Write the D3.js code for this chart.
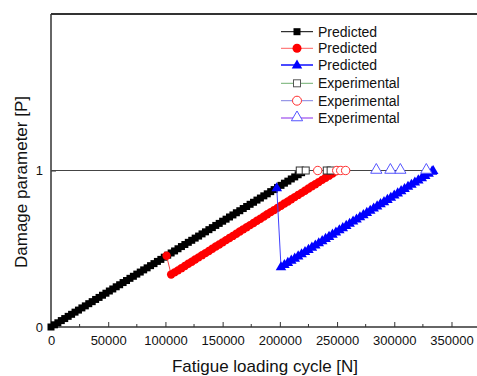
<!DOCTYPE html>
<html>
<head>
<meta charset="utf-8">
<script src="https://cdn.jsdelivr.net/npm/d3@7"></script>
<style>
body { margin: 0; background: white; }
svg { display: block; font-family: "Liberation Sans", Arial, sans-serif; }
</style>
</head>
<body>
<svg id="chart"></svg>
<script>
// predicted damage, specimen 1 (black squares)
var blackCycles = [0,3000,6000,9000,12000,15000,18000,21000,24000,27000,30000,33000,36000,39000,42000,45000,48000,51000,54000,57000,60000,63000,66000,69000,72000,75000,78000,81000,84000,87000,90000,93000,96000,99000,102000,105000,108000,111000,114000,117000,120000,123000,126000,129000,132000,135000,138000,141000,144000,147000,150000,153000,156000,159000,162000,165000,168000,171000,174000,177000,180000,183000,186000,189000,192000,195000,198000,201000,204000,207000,210000,213000,216000,219000,222000];
var blackDamage = [0,0.014,0.027,0.041,0.054,0.068,0.081,0.095,0.108,0.122,0.135,0.149,0.162,0.176,0.189,0.203,0.216,0.230,0.243,0.257,0.270,0.284,0.297,0.311,0.324,0.338,0.351,0.365,0.378,0.392,0.405,0.419,0.432,0.446,0.459,0.473,0.486,0.500,0.514,0.527,0.541,0.554,0.568,0.581,0.595,0.608,0.622,0.635,0.649,0.662,0.676,0.689,0.703,0.716,0.730,0.743,0.757,0.770,0.784,0.797,0.811,0.824,0.838,0.851,0.865,0.878,0.892,0.905,0.919,0.932,0.946,0.959,0.973,0.986,1.000];

// predicted damage, specimen 2 (red circles)
var redCycles = [101000,105000,108000,111000,114000,117000,120000,123000,126000,129000,132000,135000,138000,141000,144000,147000,150000,153000,156000,159000,162000,165000,168000,171000,174000,177000,180000,183000,186000,189000,192000,195000,198000,201000,204000,207000,210000,213000,216000,219000,222000,225000,228000,231000,234000,237000,240000,243000,246000,249000,250000];
var redDamage = [0.455,0.335,0.349,0.362,0.376,0.390,0.404,0.417,0.431,0.445,0.459,0.472,0.486,0.500,0.514,0.527,0.541,0.555,0.569,0.582,0.596,0.610,0.624,0.637,0.651,0.665,0.679,0.692,0.706,0.720,0.734,0.747,0.761,0.775,0.789,0.802,0.816,0.830,0.844,0.857,0.871,0.885,0.899,0.912,0.926,0.940,0.954,0.967,0.981,0.995,1.000];

// predicted damage, specimen 3 (blue triangles)
var blueCycles = [197300,201000,204000,207000,210000,213000,216000,219000,222000,225000,228000,231000,234000,237000,240000,243000,246000,249000,252000,255000,258000,261000,264000,267000,270000,273000,276000,279000,282000,285000,288000,291000,294000,297000,300000,303000,306000,309000,312000,315000,318000,321000,324000,327000,330000,333000,334000];
var blueDamage = [0.890,0.385,0.399,0.413,0.427,0.440,0.454,0.468,0.482,0.496,0.510,0.524,0.538,0.552,0.566,0.579,0.593,0.607,0.621,0.635,0.649,0.663,0.677,0.690,0.704,0.718,0.732,0.746,0.760,0.774,0.788,0.801,0.815,0.829,0.843,0.857,0.871,0.885,0.899,0.912,0.926,0.940,0.954,0.968,0.982,0.996,1.000];

// experimental failure cycles (all at P = 1)
var expBlackCycles = [217400,222600,241000,244400];
var expRedCycles = [233100,249700,253200,257500];
var expBlueCycles = [284300,296600,305300,328000];
var failureDamage = 1;

var xTicks = [0,50000,100000,150000,200000,250000,300000,350000];
var xMinorTicks = [25000,75000,125000,175000,225000,275000,325000,375000];
var yTicks = [0,1];

var legendLabels = ["Predicted","Predicted","Predicted","Experimental","Experimental","Experimental"];

var width = 477, height = 376;
var svg = d3.select("#chart").attr("width", width).attr("height", height);

var x = d3.scaleLinear().domain([0, 400000]).range([51, 508.7]);
var y = d3.scaleLinear().domain([0, 2]).range([327, 14]);

var lineFunction = d3.line().x(function (d) { return x(d.x); }).y(function (d) { return y(d.y); });

function toPoints(cycles, damage)
{
return cycles.map(function (c, i) { return {x: c, y: damage[i]}; });
}

var blackP = toPoints(blackCycles, blackDamage);
var redP = toPoints(redCycles, redDamage);
var blueP = toPoints(blueCycles, blueDamage);

// frame
svg.append("line").attr("x1", x(0)).attr("x2", width).attr("y1", y(2)).attr("y2", y(2))
    .style("stroke", "#333").style("stroke-width", 2);
svg.append("line").attr("x1", x(0)).attr("x2", x(0)).attr("y1", y(2)).attr("y2", y(0))
    .style("stroke", "#333").style("stroke-width", 1.5);

// x axis
var xAxis = d3.axisBottom(x).tickValues(xTicks).tickSize(-5).tickPadding(9).tickFormat(d3.format("d"));
var gx = svg.append("g").attr("transform", "translate(0," + y(0) + ")").call(xAxis);
gx.select(".domain").remove();
gx.append("line").attr("x1", x(0)).attr("x2", width).style("stroke", "#333").style("stroke-width", 1.5);
gx.selectAll(".tick line").style("stroke", "#333");
gx.selectAll(".tick text").style("font-size", "13px").style("fill", "#111").attr("font-family", null);
gx.selectAll(".minor").data(xMinorTicks).enter().append("line").classed("minor", true)
    .attr("x1", function (d) { return x(d); }).attr("x2", function (d) { return x(d); })
    .attr("y1", 0).attr("y2", -3).style("stroke", "#333");

// y axis
var yAxis = d3.axisLeft(y).tickValues(yTicks).tickSize(-5).tickPadding(8).tickFormat(d3.format("d"));
var gy = svg.append("g").attr("transform", "translate(" + x(0) + ",0)").call(yAxis);
gy.select(".domain").remove();
gy.selectAll(".tick line").style("stroke", "#333");
gy.selectAll(".tick text").style("font-size", "13px").style("fill", "#111").attr("font-family", null);

// failure line at P = 1
svg.append("path")
    .attr("d", lineFunction([{x: 0, y: failureDamage}, {x: d3.max(expBlueCycles), y: failureDamage}]))
    .attr("fill", "none").style("stroke", "#444").style("stroke-width", 1);

// predicted series
svg.append("path").attr("d", lineFunction(blackP)).attr("fill", "none").style("stroke", "black").style("stroke-width", 1);
svg.selectAll(".black_point").data(blackP).enter().append("rect").classed("black_point", true)
    .attr("x", function (d) { return x(d.x) - 3.5; })
    .attr("y", function (d) { return y(d.y) - 3.5; })
    .attr("width", 7).attr("height", 7).attr("fill", "black");

svg.append("path").attr("d", lineFunction(redP)).attr("fill", "none").style("stroke", "#ff4040").style("stroke-width", 1);
svg.selectAll(".red_point").data(redP).enter().append("circle").classed("red_point", true)
    .attr("cx", function (d) { return x(d.x); })
    .attr("cy", function (d) { return y(d.y); })
    .attr("r", 4.2).attr("fill", "red");

var tri = d3.symbol().type(d3.symbolTriangle).size(48);
svg.append("path").attr("d", lineFunction(blueP)).attr("fill", "none").style("stroke", "#4040ff").style("stroke-width", 1);
svg.selectAll(".blue_point").data(blueP).enter().append("path").classed("blue_point", true)
    .attr("d", tri)
    .attr("transform", function (d) { return "translate(" + x(d.x) + "," + (y(d.y) + 0.5) + ")"; })
    .attr("fill", "blue");

// experimental points
svg.selectAll(".exp_black").data(expBlackCycles).enter().append("rect").classed("exp_black", true)
    .attr("x", function (d) { return x(d) - 3.5; })
    .attr("y", y(failureDamage) - 3.5)
    .attr("width", 7).attr("height", 7)
    .attr("fill", "white").style("stroke", "#333").style("stroke-width", 1);
svg.selectAll(".exp_red").data(expRedCycles).enter().append("circle").classed("exp_red", true)
    .attr("cx", function (d) { return x(d); })
    .attr("cy", y(failureDamage))
    .attr("r", 4.2)
    .attr("fill", "white").style("stroke", "#ff3030").style("stroke-width", 1);
var triOpen = d3.symbol().type(d3.symbolTriangle).size(55);
svg.selectAll(".exp_blue").data(expBlueCycles).enter().append("path").classed("exp_blue", true)
    .attr("d", triOpen)
    .attr("transform", function (d) { return "translate(" + x(d) + "," + (y(failureDamage) - 0.5) + ")"; })
    .attr("fill", "white").style("stroke", "#5555ff").style("stroke-width", 1);

// legend
var legendLine = ["black", "#ff6060", "#4a4aff", "#70b070", "#8080e0", "#b070f0"];
var legendLineWidth = [1, 1, 2, 1, 1, 1.5];
var legendRows = [31.7, 48.3, 65, 83.3, 100.7, 118];
var legend = svg.selectAll(".legend_item").data(legendLabels).enter().append("g").classed("legend_item", true)
    .attr("transform", function (d, i) { return "translate(281," + legendRows[i] + ")"; });
legend.append("line").attr("x1", 0).attr("x2", 32).attr("y1", 0).attr("y2", 0)
    .style("stroke", function (d, i) { return legendLine[i]; })
    .style("stroke-width", function (d, i) { return legendLineWidth[i]; });
legend.append("text").attr("x", 37).attr("y", 0).attr("dy", "0.36em")
    .style("font-size", "14px").style("fill", "#111").text(function (d) { return d; });

var lg = legend.nodes();
d3.select(lg[0]).append("rect").attr("x", 12.5).attr("y", -3.5).attr("width", 7).attr("height", 7).attr("fill", "black");
d3.select(lg[1]).append("circle").attr("cx", 16).attr("cy", 0).attr("r", 4.5).attr("fill", "red");
d3.select(lg[2]).append("path").attr("d", tri).attr("transform", "translate(16,0.5)").attr("fill", "blue");
d3.select(lg[3]).append("rect").attr("x", 12.5).attr("y", -3.5).attr("width", 7).attr("height", 7)
    .attr("fill", "white").style("stroke", "#555");
d3.select(lg[4]).append("circle").attr("cx", 16).attr("cy", 0).attr("r", 4.5)
    .attr("fill", "white").style("stroke", "#ff3030");
d3.select(lg[5]).append("path").attr("d", triOpen).attr("transform", "translate(16,-0.5)")
    .attr("fill", "white").style("stroke", "#5555ff");

// axis titles
svg.append("text").attr("x", 265).attr("y", 372).attr("text-anchor", "middle")
    .style("font-size", "17px").style("fill", "#111").text("Fatigue loading cycle [N]");
svg.append("text").attr("transform", "translate(27,182) rotate(-90)").attr("text-anchor", "middle")
    .style("font-size", "17px").style("fill", "#111").text("Damage parameter [P]");
</script>
</body>
</html>
